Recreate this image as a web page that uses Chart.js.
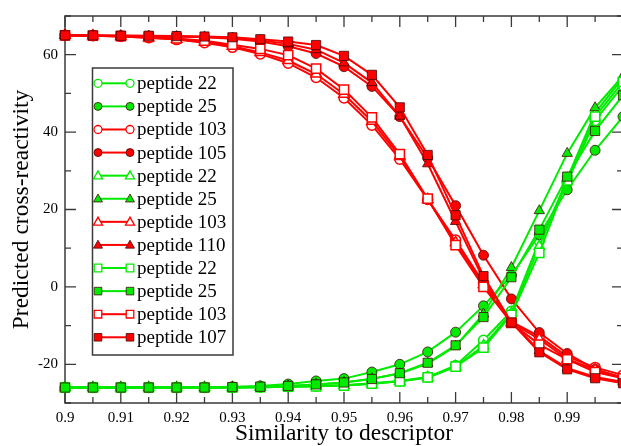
<!DOCTYPE html>
<html><head><meta charset="utf-8">
<script src="https://cdn.jsdelivr.net/npm/chart.js@4/dist/chart.umd.min.js"></script>
<style>
html,body{margin:0;padding:0;background:#fff;overflow:hidden;}
#wrap{position:relative;width:632px;height:446px;}
</style></head><body>
<div id="wrap"><canvas id="c"></canvas></div>
<script>
// ---- data ----
const xValues = [0.9,0.905,0.91,0.915,0.92,0.925,0.93,0.935,0.94,0.945,0.95,0.955,0.96,0.965,0.97,0.975,0.98,0.985,0.99,0.995,1.0];

const g22Circle = [-26,-26,-26,-26,-26,-26,-26,-25.9,-25.8,-25.6,-25.4,-24.9,-24.3,-23.3,-20.3,-13.8,-6.3,11.9,27,43,52];
const g25Circle = [-26,-26,-26,-26,-25.95,-25.9,-25.8,-25.6,-25.1,-24.3,-23.7,-22,-20,-16.8,-11.7,-4.9,3,13.5,25.1,35.3,44];
const r103Circle = [65,64.9,64.7,64.4,63.9,63.1,61.9,60.2,57.8,54.1,48.8,41.8,33,22.6,12.1,1,-9,-12.8,-18,-20.8,-22.8];
const r105Circle = [65,64.9,64.9,64.8,64.7,64.5,64.1,63.4,62.2,60.3,56.9,51.8,44,33.3,21,8.2,-3.1,-11.8,-17.2,-21.3,-23.5];
const g22Tri = [-26,-26,-26,-26,-26,-26,-26,-25.9,-25.8,-25.7,-25.5,-25,-24.4,-23.4,-20.6,-15.2,-6.8,10.5,28,45,54];
const g25Tri = [-26,-26,-26,-26,-26,-26,-25.9,-25.8,-25.6,-25.2,-24.7,-23.7,-22.4,-19.8,-15.3,-7,5,19.7,34.5,46.3,54.5];
const r103Tri = [65,64.9,64.7,64.4,64,63.3,62.2,60.6,58.5,55,49.8,42.8,33.7,22.6,11.5,0.6,-9.2,-13.5,-18.6,-21.4,-23.4];
const r110Tri = [65,64.9,64.9,64.8,64.7,64.6,64.3,63.7,62.8,61.3,57.9,52.8,44.1,31.8,16.9,2,-9,-16.5,-21,-23.3,-24.6];
const g22Sq = [-26,-26,-26,-26,-26,-26,-26,-25.9,-25.8,-25.7,-25.5,-25,-24.4,-23.4,-20.6,-15.7,-7.2,8.8,27.5,44,53];
const g25Sq = [-26,-26,-26,-26,-26,-26,-25.9,-25.8,-25.6,-25.2,-24.7,-23.8,-22.3,-19.6,-15.1,-7.8,2.5,14.8,28.5,40.3,49.5];
const r103Sq = [65,64.9,64.8,64.6,64.2,63.6,62.6,61.5,59.9,56.4,51,43.8,34.3,22.8,10.8,0,-9.3,-14.9,-18.7,-22,-23.6];
const r107Sq = [65,65,64.9,64.9,64.8,64.7,64.5,64,63.4,62.5,59.7,54.8,46.4,34.1,18.5,2.8,-9.2,-16.9,-21.3,-23.6,-24.9];

const seriesLabels = ["peptide 22","peptide 25","peptide 103","peptide 105","peptide 22","peptide 25","peptide 103","peptide 110","peptide 22","peptide 25","peptide 103","peptide 107"];
const seriesValues = [g22Circle,g25Circle,r103Circle,r105Circle,g22Tri,g25Tri,r103Tri,r110Tri,g22Sq,g25Sq,r103Sq,r107Sq];

const xTickValues = [0.9,0.91,0.92,0.93,0.94,0.95,0.96,0.97,0.98,0.99];
const xTickLabels = ["0.9","0.91","0.92","0.93","0.94","0.95","0.96","0.97","0.98","0.99"];
const yTickValues = [-20,0,20,40,60];
const yTickLabels = ["-20","0","20","40","60"];
const xMinorTicks = [0.905,0.915,0.925,0.935,0.945,0.955,0.965,0.975,0.985,0.995];
const xMajorTicks = [0.9,0.91,0.92,0.93,0.94,0.95,0.96,0.97,0.98,0.99,1.0];
const yMajorTicks = [-20,0,20,40,60];
const yMinorTicks = [-30,-10,10,30,50,70];

// ---- styles ----
const GREEN = 'rgb(0,235,0)';
const RED = 'rgb(255,0,0)';
const styleList = [
  {c:GREEN, s:'circle', f:false},{c:GREEN, s:'circle', f:true},{c:RED, s:'circle', f:false},{c:RED, s:'circle', f:true},
  {c:GREEN, s:'triangle', f:false},{c:GREEN, s:'triangle', f:true},{c:RED, s:'triangle', f:false},{c:RED, s:'triangle', f:true},
  {c:GREEN, s:'rect', f:false},{c:GREEN, s:'rect', f:true},{c:RED, s:'rect', f:false},{c:RED, s:'rect', f:true}
];
const radiusFor = {circle:5, triangle:6, rect:6.5};

const datasets = seriesValues.map((vals,i)=>{
  const st = styleList[i];
  return {
    label: seriesLabels[i],
    data: xValues.map((x,j)=>({x:x, y:vals[j]})),
    borderColor: st.c,
    borderWidth: 2,
    pointStyle: st.s,
    pointRadius: radiusFor[st.s],
    pointBackgroundColor: st.f ? st.c : '#fff',
    pointBorderColor: st.f ? 'rgba(60,0,0,0.75)' : st.c,
    pointBorderWidth: st.f ? 1 : 1.5,
    fill: false,
    tension: 0,
    clip: false,
    order: 11 - i
  };
});

function drawMarker(ctx, shape, x, y, r, fillC, strokeC, lw){
  ctx.beginPath();
  if (shape==='circle'){ ctx.arc(x,y,r,0,Math.PI*2); }
  else if (shape==='rect'){ ctx.rect(x-r,y-r,2*r,2*r); }
  else { ctx.moveTo(x, y-r*1.1); ctx.lineTo(x+r*1.05, y+r*0.75); ctx.lineTo(x-r*1.05, y+r*0.75); ctx.closePath(); }
  ctx.fillStyle=fillC; ctx.fill();
  ctx.lineWidth=lw; ctx.strokeStyle=strokeC; ctx.stroke();
}

const framePlugin = {
  id:'frame',
  beforeDatasetsDraw(chart){
    const {ctx, chartArea:a, scales:{x,y}} = chart;
    ctx.save();
    ctx.strokeStyle='#3a3a3a'; ctx.lineWidth=1.5;
    ctx.strokeRect(a.left,a.top,a.right-a.left,a.bottom-a.top);
    ctx.lineWidth=1.3;
    ctx.beginPath();
    const tx=(v,len)=>{const p=x.getPixelForValue(v); ctx.moveTo(p,a.bottom); ctx.lineTo(p,a.bottom-len); ctx.moveTo(p,a.top); ctx.lineTo(p,a.top+len);};
    const ty=(v,len)=>{const p=y.getPixelForValue(v); ctx.moveTo(a.left,p); ctx.lineTo(a.left+len,p); ctx.moveTo(a.right,p); ctx.lineTo(a.right-len,p);};
    xMajorTicks.forEach(v=>tx(v,11)); xMinorTicks.forEach(v=>tx(v,6));
    yMajorTicks.forEach(v=>ty(v,11)); yMinorTicks.forEach(v=>ty(v,6));
    ctx.stroke();
    ctx.restore();
  },
  afterDatasetsDraw(chart){
    const ctx = chart.ctx;
    ctx.save();
    const bx=92.5, by=68, bw=140.5, bh=287;
    ctx.fillStyle='#fff'; ctx.fillRect(bx,by,bw,bh);
    ctx.strokeStyle='#3a3a3a'; ctx.lineWidth=1.5; ctx.strokeRect(bx,by,bw,bh);
    ctx.font='19px "Liberation Serif", "Times New Roman", serif';
    ctx.textBaseline='middle'; ctx.textAlign='left';
    chart.data.datasets.forEach((ds,i)=>{
      const st=styleList[i];
      const yy = 83.3 + i*23.09;
      ctx.strokeStyle=st.c; ctx.lineWidth=2;
      ctx.beginPath(); ctx.moveTo(98,yy); ctx.lineTo(130,yy); ctx.stroke();
      const r = st.s==='circle'?4:(st.s==='rect'?3.8:4.3);
      [98,130].forEach(px=>drawMarker(ctx, st.s, px, yy, r, st.f?st.c:'#fff', st.f?'rgba(60,0,0,0.75)':st.c, st.f?1:1.3));
      ctx.fillStyle='#000';
      ctx.fillText(ds.label, 137, yy+1);
    });
    ctx.restore();
  }
};

new Chart(document.getElementById('c'), {
  type:'line',
  data:{datasets:datasets},
  options:{
    responsive:true, maintainAspectRatio:false, animation:false, devicePixelRatio:1,
    layout:{padding:{top:13,left:0,right:9,bottom:0}, autoPadding:false},
    plugins:{legend:{display:false}, tooltip:{enabled:false}},
    scales:{
      x:{type:'linear', min:0.9, max:1.0,
        grid:{display:false, drawTicks:false}, border:{display:false},
        afterFit(s){ s.height=43; },
        afterBuildTicks(s){ s.ticks = xTickValues.map(v=>({value:v})); },
        ticks:{padding:6, maxRotation:0, autoSkip:false, color:'#000',
          font:{family:'"Liberation Serif", serif', size:15},
          callback:(v,i)=>xTickLabels[i]},
        title:{display:true, text:'Similarity to descriptor', color:'#000',
          font:{family:'"Liberation Serif", serif', size:23.5, lineHeight:1.0}, padding:{top:0,bottom:0}}
      },
      y:{type:'linear', min:-30, max:70,
        grid:{display:false, drawTicks:false}, border:{display:false},
        afterFit(s){ s.width=65; },
        afterBuildTicks(s){ s.ticks = yTickValues.map(v=>({value:v})); },
        ticks:{padding:7, autoSkip:false, color:'#000',
          font:{family:'"Liberation Serif", serif', size:15},
          callback:(v,i)=>yTickLabels[i]},
        title:{display:true, text:'Predicted cross-reactivity', color:'#000',
          font:{family:'"Liberation Serif", serif', size:23.5, lineHeight:1.0}, padding:{top:10,bottom:0}}
      }
    }
  },
  plugins:[framePlugin]
});
</script>
</body></html>
